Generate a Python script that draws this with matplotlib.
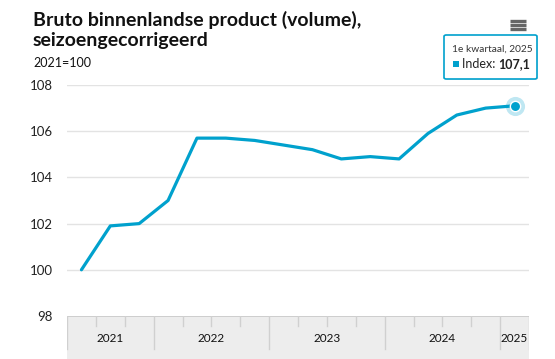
import matplotlib
matplotlib.use("Agg")
import matplotlib.pyplot as plt
from matplotlib.patches import FancyBboxPatch, Rectangle
from matplotlib.lines import Line2D

# data
years = ["2021", "2022", "2023", "2024", "2025"]
quarters_per_year = [3, 4, 4, 4, 1]
index_values = [100.0, 101.9, 102.0, 103.0,
                105.7, 105.7, 105.6, 105.4,
                105.2, 104.8, 104.9, 104.8,
                105.9, 106.7, 107.0, 107.1]
y_ticks = [98, 100, 102, 104, 106, 108]

title = "Bruto binnenlandse product (volume),\nseizoengecorrigeerd"
subtitle = "2021=100"
tip_head = "1e kwartaal, 2025"
tip_label = "Index: "
tip_value = "107,1"

blue = "#00a1cd"
plt.rcParams['font.family'] = ['Lato', 'DejaVu Sans']

W, H = 555, 359
fig = plt.figure(figsize=(W / 100, H / 100), dpi=100)

def fx(px):
    return px / W

def fy(py):
    return 1 - py / H

left, right = 67, 529
top, base = 85, 316
ax = fig.add_axes([fx(left), fy(base), fx(right - left), (base - top) / H])
x = list(range(len(index_values)))
ax.set_xlim(-0.5, len(index_values) - 0.5)
ax.set_ylim(98, 108)
for t in y_ticks[1:]:
    ax.axhline(t, color="#e3e3e3", lw=1, zorder=0)
ax.plot(x, index_values, color=blue, lw=2.3, solid_capstyle="round", zorder=3)
ax.scatter([x[-1]], [index_values[-1]], s=190, color=blue, alpha=0.25, lw=0, zorder=4, clip_on=False)
ax.scatter([x[-1]], [index_values[-1]], s=55, color=blue, edgecolor="white", lw=1, zorder=5, clip_on=False)
ax.set_yticks(y_ticks)
ax.set_yticklabels([str(t) for t in y_ticks], fontsize=9.5, color="#222222")
ax.tick_params(axis="y", length=0, pad=10)
ax.set_xticks([])
for s in ax.spines.values():
    s.set_visible(False)
ax.patch.set_alpha(0)

# category band at the bottom
bx = fig.add_axes([fx(left), 0, fx(right - left), (H - base) / H])
bx.set_xlim(-0.5, len(index_values) - 0.5)
bx.set_ylim(H - base, 0)
bx.set_facecolor("#ededed")
bx.axhline(0, color="#c8c8c8", lw=1.2)
pos = -0.5
bounds = [pos]
for n in quarters_per_year:
    pos += n
    bounds.append(pos)
for b in bounds:
    bx.plot([b, b], [0, 33], color="#d0d0d0", lw=1)
for i in range(len(index_values) + 1):
    b = i - 0.5
    if b not in bounds:
        bx.plot([b, b], [0, 10], color="#d0d0d0", lw=1)
for i, yr in enumerate(years):
    bx.text((bounds[i] + bounds[i + 1]) / 2, 23, yr, ha="center", va="center",
            fontsize=8.5, color="#111111")
bx.set_xticks([])
bx.set_yticks([])
for s in bx.spines.values():
    s.set_visible(False)

# titles
fig.text(fx(33), fy(30), title, fontsize=14, fontweight="bold", color="#111111",
         va="center", ha="left", linespacing=1.2)
fig.text(fx(33), fy(63), subtitle, fontsize=9, color="#111111", va="center", ha="left")

# menu icon
for yy in [20.5, 24.5, 28.5]:
    fig.add_artist(Line2D([fx(510), fx(526)], [fy(yy), fy(yy)], color="#666666", lw=2.4,
                          solid_capstyle="butt"))

# tooltip
shadow = FancyBboxPatch((fx(446), fy(80)), fx(92), (44) / H, boxstyle="round,pad=0,rounding_size=0.004",
                        transform=fig.transFigure, facecolor="#000000", alpha=0.08, lw=0)
fig.add_artist(shadow)
tip = FancyBboxPatch((fx(444), fy(79)), fx(93), (44) / H, boxstyle="round,pad=0,rounding_size=0.004",
                     transform=fig.transFigure, facecolor="white", edgecolor=blue, lw=1.2)
fig.add_artist(tip)
fig.text(fx(452), fy(49), tip_head, fontsize=7.3, color="#333333", va="center", ha="left")
fig.add_artist(Rectangle((fx(453), fy(67)), fx(6), 6 / H, transform=fig.transFigure,
                         facecolor=blue, lw=0))
t1 = fig.text(fx(462), fy(64), tip_label, fontsize=9, color="#222222", va="center", ha="left")
fig.canvas.draw()
bb = t1.get_window_extent()
fig.text(bb.x1 / W, fy(64), tip_value, fontsize=9, fontweight="bold", color="#222222",
         va="center", ha="left")

fig.savefig("out.png", dpi=100)
